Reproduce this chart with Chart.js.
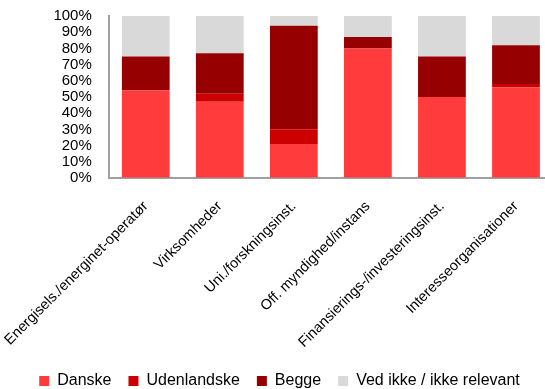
<!DOCTYPE html>
<html>
<head>
<meta charset="utf-8">
<script src="https://cdn.jsdelivr.net/npm/chart.js@4/dist/chart.umd.min.js"></script>
<style>
  html, body { margin: 0; padding: 0; overflow: hidden; background: #fff; }
  #wrap { width: 553px; height: 389px; }
</style>
</head>
<body>
<div id="wrap"><canvas id="chart"></canvas></div>
<script>
const categories = [
    'Energisels./energinet-operatør',
    'Virksomheder',
    'Uni./forskningsinst.',
    'Off. myndighed/instans',
    'Finansierings-/investeringsinst.',
    'Interesseorganisationer'
];
const danske      = [54, 47, 21, 80, 50, 56];
const udenlandske = [0, 5, 9, 0, 0, 2];
const begge       = [21, 25, 64, 7, 25, 24];
const vedIkke     = [25, 23, 6, 13, 25, 18];
const yTicks = [0, 10, 20, 30, 40, 50, 60, 70, 80, 90, 100];

const font = 'Liberation Sans';

// keep the legend row short in the layout and pin it to the bottom edge
const legendHeight = 28;
const legendTop = 356;
const legendShift = {
    id: 'legendShift',
    beforeLayout(chart) {
        const lg = chart.legend;
        if (!lg || lg._short) return;
        const fit = lg.fit.bind(lg);
        lg.fit = function () {
            fit();
            this.height = legendHeight;
        };
        lg._short = true;
    },
    afterLayout(chart) {
        const lg = chart.legend;
        if (!lg) return;
        const d = legendTop - lg.top;
        lg.top = legendTop;
        lg.bottom = chart.height;
        lg.height = lg.bottom - lg.top;
        if (lg.legendHitBoxes) lg.legendHitBoxes.forEach(b => { b.top += d; });
    }
};

const ctx = document.getElementById('chart').getContext('2d');
const chart = new Chart(ctx, {
    type: 'bar',
    data: {
        labels: categories,
        datasets: [
            { label: 'Danske', data: danske, backgroundColor: '#FF3B3B' },
            { label: 'Udenlandske', data: udenlandske, backgroundColor: '#CC0000' },
            { label: 'Begge', data: begge, backgroundColor: '#960000' },
            { label: 'Ved ikke / ikke relevant', data: vedIkke, backgroundColor: '#D9D9D9' }
        ]
    },
    plugins: [legendShift],
    options: {
        responsive: true,
        maintainAspectRatio: false,
        animation: false,
        layout: { padding: { top: 16, right: 0, bottom: 0, left: 6 } },
        datasets: { bar: { categoryPercentage: 1, barPercentage: 0.645 } },
        plugins: {
            legend: {
                position: 'bottom',
                labels: {
                    boxWidth: 10,
                    boxHeight: 10,
                    padding: 17,
                    color: '#000',
                    font: { family: font, size: 16 }
                }
            },
            tooltip: { enabled: false }
        },
        scales: {
            x: {
                stacked: true,
                grid: { display: true, drawOnChartArea: false, drawTicks: true, tickLength: 18, tickColor: 'rgba(0,0,0,0)' },
                border: { color: '#A0A0A0', width: 2 },
                afterFit: function (scale) {
                    scale.height += 8;
                },
                ticks: {
                    color: '#000',
                    minRotation: 45,
                    maxRotation: 45,
                    padding: 2,
                    font: { family: font, size: 14.5 }
                }
            },
            y: {
                stacked: true,
                min: 0,
                max: 100,
                afterBuildTicks: function (scale) {
                    scale.ticks = yTicks.map(v => ({ value: v }));
                },
                grid: { display: true, drawOnChartArea: false, drawTicks: true, tickLength: 15, tickColor: 'rgba(0,0,0,0)' },
                border: { color: '#A0A0A0', width: 2 },
                ticks: {
                    color: '#000',
                    autoSkip: false,
                    padding: 2,
                    font: { family: font, size: 15 },
                    callback: function (value) {
                        return value + '%';
                    }
                }
            }
        }
    }
});
</script>
</body>
</html>
